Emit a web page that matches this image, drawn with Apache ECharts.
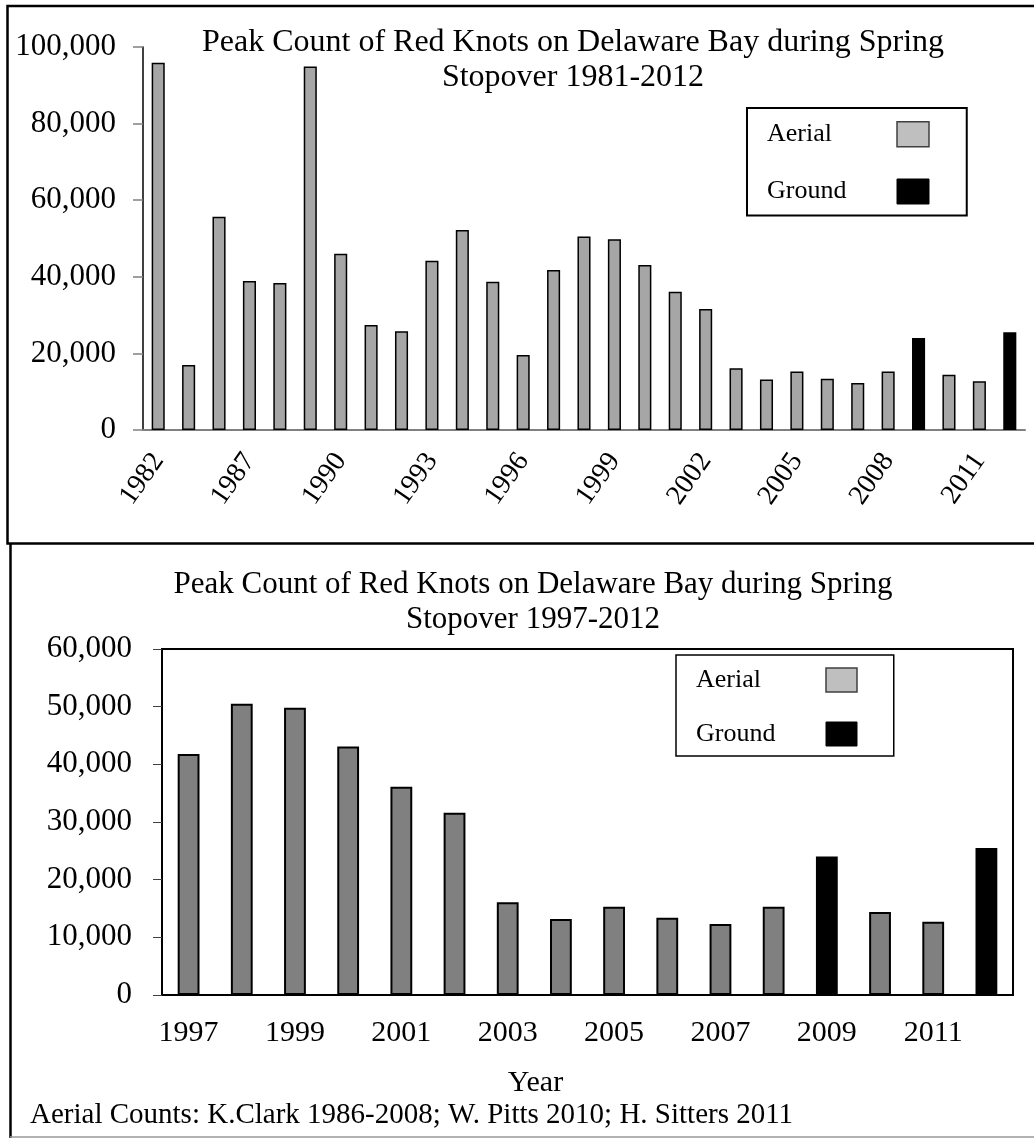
<!DOCTYPE html>
<html>
<head>
<meta charset="utf-8">
<script src="https://cdn.jsdelivr.net/npm/echarts@6/dist/echarts.min.js"></script>
<style>
  html, body { margin: 0; padding: 0; background: #fff; }
  #chart { width: 1034px; height: 1138px; }
</style>
</head>
<body>
<div id="chart"></div>
<script>
// Peak counts of Red Knots on Delaware Bay (spring stopover)
const surveyYears = ['1982', '1985', '1986', '1987', '1988', '1989', '1990', '1991', '1992', '1993',
  '1994', '1995', '1996', '1997', '1998', '1999', '2000', '2001', '2002', '2003', '2004', '2005',
  '2006', '2007', '2008', '2009', '2010', '2011', '2012'];
// aerial survey counts (null where the peak came from a ground count)
const aerialCounts = [95900, 17000, 55700, 38900, 38400, 94900, 46000, 27400, 25800, 44200,
  52200, 38700, 19600, 41800, 50500, 49800, 43100, 36100, 31600, 16100, 13200, 15300,
  13400, 12300, 15300, null, 14400, 12700, null];
// ground counts
const groundCounts = [null, null, null, null, null, null, null, null, null, null,
  null, null, null, null, null, null, null, null, null, null, null, null,
  null, null, null, 24000, null, null, 25500];

const recentFrom = surveyYears.indexOf('1997');
const recentYears = surveyYears.slice(recentFrom);
const recentAerial = aerialCounts.slice(recentFrom);
const recentGround = groundCounts.slice(recentFrom);

const titleLine1 = 'Peak Count of Red Knots on Delaware Bay during Spring';
const sourceNote = 'Aerial Counts: K.Clark 1986-2008; W. Pitts 2010; H. Sitters 2011';

const serif = 'Liberation Serif';
const fmt = v => v.toLocaleString('en-US');

function legendBox(left, top, pad, gap, w, h, bw) {
  return {
    orient: 'vertical', align: 'right', left: left, top: top,
    icon: 'rect',
    itemWidth: w, itemHeight: h, itemGap: gap, padding: pad,
    borderColor: '#000', borderWidth: bw, selectedMode: false,
    formatter: name => '{n|' + name + '}',
    textStyle: {
      fontFamily: serif, fontSize: 26, color: '#000',
      rich: { n: { width: 125, align: 'left', fontSize: 26, fontFamily: serif, color: '#000', lineHeight: h } }
    },
    data: [
      { name: 'Aerial', itemStyle: { color: '#bfbfbf', borderColor: '#404040', borderWidth: 1.5 } },
      { name: 'Ground', itemStyle: { color: '#000', borderColor: '#000', borderWidth: 1 } }
    ]
  };
}

const chart = echarts.init(document.getElementById('chart'), null, { renderer: 'canvas' });

chart.setOption({
  animation: false,
  backgroundColor: '#fff',
  textStyle: { fontFamily: serif },
  title: [
    {
      text: titleLine1 + '\nStopover 1981-2012',
      left: 573, top: 25, textAlign: 'center', padding: 0,
      textStyle: { fontFamily: serif, fontSize: 32, fontWeight: 'normal', color: '#000', lineHeight: 35 }
    },
    {
      text: titleLine1 + '\nStopover 1997-2012',
      left: 533, top: 567, textAlign: 'center', padding: 0,
      textStyle: { fontFamily: serif, fontSize: 31, fontWeight: 'normal', color: '#000', lineHeight: 35 }
    },
    {
      text: sourceNote,
      left: 30, top: 1101, padding: 0,
      textStyle: { fontFamily: serif, fontSize: 29, fontWeight: 'normal', color: '#000' }
    }
  ],
  legend: [
    legendBox(747, 108, [13, 37, 11, 20], 31, 32, 25, 2),
    legendBox(676, 655, [12, 36, 9, 20], 28, 31, 24, 1.5)
  ],
  grid: [
    { left: 143, top: 47, width: 882, height: 383, containLabel: false },
    { left: 162, top: 649, width: 851, height: 346, containLabel: false,
      show: true, borderColor: '#000', borderWidth: 2, backgroundColor: 'transparent' }
  ],
  xAxis: [
    {
      type: 'category', gridIndex: 0, data: surveyYears,
      axisLine: { lineStyle: { color: '#808080', width: 2 } },
      axisTick: { length: 9, lineStyle: { color: '#808080', width: 1.5 } },
      axisLabel: { interval: 2, rotate: 55, margin: 26, fontSize: 28, fontFamily: serif, color: '#000' }
    },
    {
      type: 'category', gridIndex: 1, data: recentYears,
      axisLine: { lineStyle: { color: '#000', width: 2 } },
      axisTick: { length: 9, lineStyle: { color: '#404040', width: 1 } },
      axisLabel: { interval: 1, margin: 23, fontSize: 30, fontFamily: serif, color: '#000' },
      name: 'Year', nameLocation: 'middle', nameGap: 73,
      nameTextStyle: { fontSize: 30, fontFamily: serif, color: '#000', padding: [0, 104, 0, 0] }
    }
  ],
  yAxis: [
    {
      type: 'value', gridIndex: 0, min: 0, max: 100000, interval: 20000,
      axisLine: { show: true, lineStyle: { color: '#000', width: 1.5 } },
      axisTick: { show: true, length: 10, lineStyle: { color: '#808080', width: 1.5 } },
      splitLine: { show: false },
      axisLabel: { margin: 27, fontSize: 31, fontFamily: serif, color: '#000', formatter: fmt }
    },
    {
      type: 'value', gridIndex: 1, min: 0, max: 60000, interval: 10000,
      axisLine: { show: true, lineStyle: { color: '#000', width: 2 } },
      axisTick: { show: true, length: 9, lineStyle: { color: '#404040', width: 1 } },
      splitLine: { show: false },
      axisLabel: { margin: 30, fontSize: 31, fontFamily: serif, color: '#000', formatter: fmt }
    }
  ],
  series: [
    {
      name: 'Aerial', type: 'bar', xAxisIndex: 0, yAxisIndex: 0, stack: 'all',
      barWidth: '43%', data: aerialCounts,
      itemStyle: { color: '#a6a6a6', borderColor: '#000', borderWidth: 1.5 }
    },
    {
      name: 'Ground', type: 'bar', xAxisIndex: 0, yAxisIndex: 0, stack: 'all',
      barWidth: '43%', data: groundCounts,
      itemStyle: { color: '#000', borderColor: '#000', borderWidth: 1.5 }
    },
    {
      name: 'Aerial', type: 'bar', xAxisIndex: 1, yAxisIndex: 1, stack: 'recent',
      barWidth: '41%', data: recentAerial,
      itemStyle: { color: '#808080', borderColor: '#000', borderWidth: 2 }
    },
    {
      name: 'Ground', type: 'bar', xAxisIndex: 1, yAxisIndex: 1, stack: 'recent',
      barWidth: '41%', data: recentGround,
      itemStyle: { color: '#000', borderColor: '#000', borderWidth: 2 }
    }
  ],
  graphic: [
    // frame around the upper panel
    { type: 'polyline', silent: true, shape: { points: [[1040, 6], [7.5, 6], [7.5, 543.5], [1040, 543.5]] },
      style: { stroke: '#000', lineWidth: 2.5, fill: null } },
    // frame around the lower panel
    { type: 'line', silent: true, shape: { x1: 10.5, y1: 543, x2: 10.5, y2: 1138 },
      style: { stroke: '#000', lineWidth: 2.5 } },
    { type: 'line', silent: true, shape: { x1: 10, y1: 1137, x2: 1040, y2: 1137 },
      style: { stroke: '#999', lineWidth: 1.5 } }
  ]
});
</script>
</body>
</html>
